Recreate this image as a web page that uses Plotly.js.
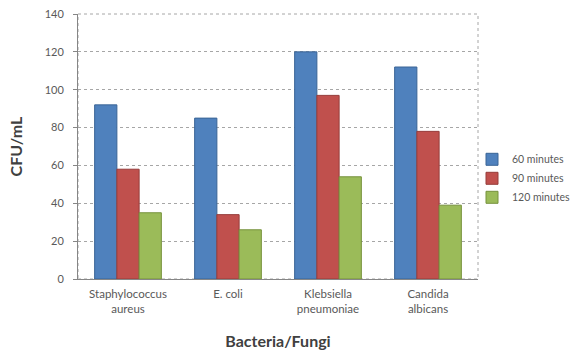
<!DOCTYPE html>
<html>
<head>
<meta charset="utf-8">
<script src="https://cdn.plot.ly/plotly-3.0.1.min.js"></script>
<style>
  html, body { margin: 0; padding: 0; background: #ffffff; }
  #chart { width: 571px; height: 353px; }
</style>
</head>
<body>
<div id="chart"></div>
<script>
// Organisms tested
const categories = ['Staphylococcus aureus', 'E. coli', 'Klebsiella pneumoniae', 'Candida albicans'];
const tickLabels = ['Staphylococcus<br>aureus', 'E. coli', 'Klebsiella<br>pneumoniae', 'Candida<br>albicans'];

// Colony counts (CFU/mL) for each exposure time
const seriesNames = ['60 minutes', '90 minutes', '120 minutes'];
const counts60 = [92, 85, 120, 112];
const counts90 = [58, 34, 97, 78];
const counts120 = [35, 26, 54, 39];

const yTicks = [0, 20, 40, 60, 80, 100, 120, 140];

const colors = ['#4F81BD', '#C0504D', '#9BBB59'];
const edges = ['#3A6496', '#963C3A', '#76923C'];
const values = [counts60, counts90, counts120];

const traces = values.map((v, i) => ({
  type: 'bar',
  name: seriesNames[i],
  x: categories,
  y: v,
  marker: { color: colors[i], line: { color: edges[i], width: 1 } },
  hoverinfo: 'x+y+name'
}));

const font = "Lato, 'Liberation Sans', Arial, sans-serif";

const layout = {
  width: 571,
  height: 353,
  margin: { l: 78, r: 93, t: 14, b: 74, autoexpand: false },
  paper_bgcolor: '#ffffff',
  plot_bgcolor: '#ffffff',
  barmode: 'group',
  bargap: 0.333,
  bargroupgap: 0,
  font: { family: font, size: 11, color: '#595959' },
  xaxis: {
    type: 'category',
    tickvals: categories,
    ticktext: tickLabels,
    tickfont: { size: 11.5, color: '#595959' },
    ticklabelstandoff: 4,
    showline: true,
    linecolor: '#868686',
    linewidth: 1,
    ticks: '',
    showgrid: false,
    title: { text: '<b>Bacteria/Fungi</b>', font: { size: 16, color: '#404040' }, standoff: 22 },
    automargin: false
  },
  yaxis: {
    range: [0, 140],
    tickvals: yTicks,
    ticktext: yTicks.map(String),
    tickfont: { size: 11, color: '#595959' },
    ticklabelstandoff: 7,
    showline: true,
    linecolor: '#868686',
    linewidth: 1,
    ticks: 'outside',
    ticklen: 4,
    tickcolor: '#868686',
    showgrid: true,
    gridcolor: '#a6a6a6',
    griddash: 'dot',
    gridwidth: 1,
    zeroline: false,
    title: { text: '<b>CFU/mL</b>', font: { size: 16, color: '#404040' }, standoff: 18 },
    automargin: false
  },
  shapes: [{
    type: 'rect', xref: 'paper', yref: 'paper', x0: 0, x1: 1, y0: 0, y1: 1,
    line: { color: '#a6a6a6', width: 1, dash: 'dot' }, layer: 'below'
  }],
  legend: {
    x: 0.985,
    xanchor: 'left',
    y: 0.38,
    yanchor: 'middle',
    font: { size: 10.5, color: '#595959' },
    bgcolor: 'rgba(0,0,0,0)',
    itemwidth: 30,
    tracegroupgap: 0
  },
  showlegend: true
};

Plotly.newPlot('chart', traces, layout, { displayModeBar: false, staticPlot: true });
</script>
</body>
</html>
